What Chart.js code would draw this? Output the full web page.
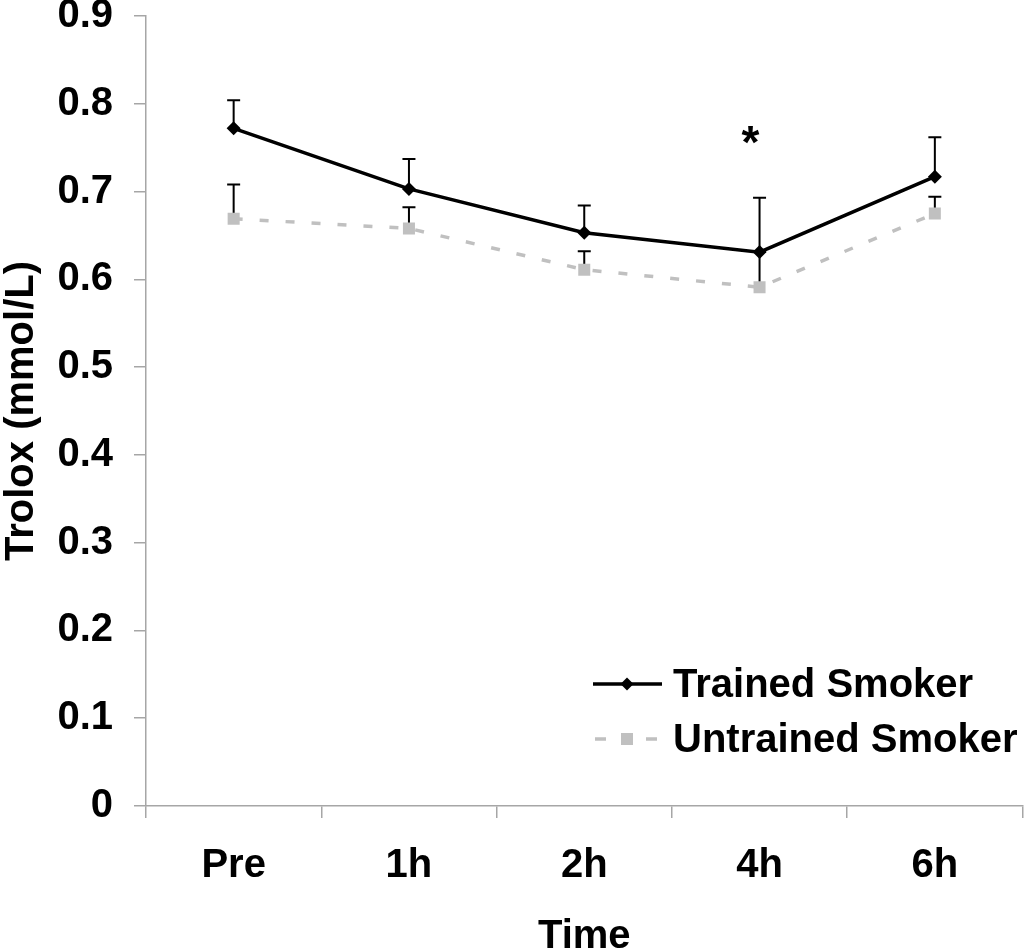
<!DOCTYPE html>
<html><head><meta charset="utf-8">
<script src="https://cdn.jsdelivr.net/npm/chart.js@4"></script>
<style>html,body{margin:0;padding:0;background:#fff;overflow:hidden}#wrap{width:1024px;height:951px;overflow:hidden}</style>
</head><body><div id="wrap"><canvas id="c" width="1031" height="951"></canvas></div>
<script>
const categories = ['Pre', '1h', '2h', '4h', '6h'];
const trainedValues = [0.772, 0.703, 0.653, 0.631, 0.717];
const trainedErrors = [0.032, 0.034, 0.031, 0.062, 0.045];
const untrainedValues = [0.669, 0.658, 0.611, 0.591, 0.675];
const untrainedErrors = [0.039, 0.024, 0.021, 0.040, 0.019];
const yTicks = [0, 0.1, 0.2, 0.3, 0.4, 0.5, 0.6, 0.7, 0.8, 0.9];
const yTickLabels = ['0', '0.1', '0.2', '0.3', '0.4', '0.5', '0.6', '0.7', '0.8', '0.9'];
const sigIndex = [3];
const sigValue = [0.768];
const sigText = ['*'];

const FONT = 'Liberation Sans, Arial, sans-serif';
const AXIS = '#a6a6a6';
const FS = 40;

const errorBars = {
  id: 'errorBars',
  beforeDatasetsDraw(chart) {
    const ctx = chart.ctx, y = chart.scales.y;
    ctx.save();
    ctx.strokeStyle = '#000';
    ctx.lineWidth = 2;
    chart.data.datasets.forEach((ds, di) => {
      const meta = chart.getDatasetMeta(di);
      meta.data.forEach((pt, i) => {
        const top = y.getPixelForValue(ds.data[i] + ds.errors[i]);
        ctx.beginPath();
        ctx.moveTo(pt.x, pt.y);
        ctx.lineTo(pt.x, top);
        ctx.moveTo(pt.x - 6.5, top);
        ctx.lineTo(pt.x + 6.5, top);
        ctx.stroke();
      });
    });
    ctx.restore();
  }
};

const extras = {
  id: 'extras',
  afterDraw(chart) {
    const ctx = chart.ctx, xs = chart.scales.x, ys = chart.scales.y;
    ctx.save();
    ctx.fillStyle = '#000';
    ctx.font = 'bold 46px ' + FONT;
    ctx.textAlign = 'center';
    ctx.textBaseline = 'alphabetic';
    sigIndex.forEach((idx, k) => {
      const px = xs.getPixelForValue(idx) - 9;
      const py = ys.getPixelForValue(sigValue[k]) + 0.56 * 46;
      ctx.fillText(sigText[k], px, py);
    });
    const ds = chart.data.datasets;
    const rows = [684, 739];
    ctx.font = 'bold ' + FS + 'px ' + FONT;
    ctx.textAlign = 'left';
    ctx.textBaseline = 'middle';
    ctx.strokeStyle = ds[0].borderColor;
    ctx.lineWidth = 3.5;
    ctx.beginPath(); ctx.moveTo(593, rows[0]); ctx.lineTo(662, rows[0]); ctx.stroke();
    ctx.fillStyle = ds[0].pointBackgroundColor;
    ctx.beginPath();
    ctx.moveTo(627 - 6.5, rows[0]); ctx.lineTo(627, rows[0] - 6.5); ctx.lineTo(627 + 6.5, rows[0]); ctx.lineTo(627, rows[0] + 6.5);
    ctx.closePath(); ctx.fill();
    ctx.strokeStyle = ds[1].borderColor;
    ctx.beginPath();
    ctx.moveTo(595, rows[1]); ctx.lineTo(606, rows[1]);
    ctx.moveTo(646, rows[1]); ctx.lineTo(657, rows[1]);
    ctx.stroke();
    ctx.fillStyle = ds[1].pointBackgroundColor;
    ctx.fillRect(621, rows[1] - 6, 12, 12);
    ctx.fillStyle = '#000';
    ctx.fillText(ds[0].label, 673, rows[0] + 2);
    ctx.fillText(ds[1].label, 673, rows[1] + 2);
    ctx.restore();
  }
};

new Chart(document.getElementById('c'), {
  type: 'line',
  data: {
    labels: categories,
    datasets: [
      {
        label: 'Trained Smoker', data: trainedValues, errors: trainedErrors,
        borderColor: '#000', backgroundColor: '#000', borderWidth: 3.5,
        pointStyle: 'rectRot', pointRadius: 7, pointBackgroundColor: '#000',
        pointBorderWidth: 0, tension: 0, fill: false
      },
      {
        label: 'Untrained Smoker', data: untrainedValues, errors: untrainedErrors,
        borderColor: '#c0c0c0', backgroundColor: '#c0c0c0', borderWidth: 3.5,
        borderDash: [9, 17], pointStyle: 'rect', pointRadius: 8.5,
        pointBackgroundColor: '#c0c0c0', pointBorderWidth: 0, tension: 0, fill: false
      }
    ]
  },
  options: {
    responsive: false,
    animation: false,
    devicePixelRatio: 1,
    layout: { padding: { top: 16, right: 0, left: 0, bottom: 0 } },
    plugins: { legend: { display: false }, tooltip: { enabled: false } },
    scales: {
      x: {
        offset: true,
        grid: { offset: true, drawOnChartArea: false, drawTicks: true, tickLength: 12, color: AXIS, lineWidth: 1.5 },
        border: { color: AXIS, width: 1.5 },
        ticks: { color: '#000', padding: 24, font: { family: FONT, weight: 'bold', size: FS, lineHeight: 1.2 } },
        title: { display: true, text: 'Time', color: '#000', padding: 0, font: { family: FONT, weight: 'bold', size: FS, lineHeight: 0.7 } },
        afterFit(s) { s.height = 145; s.paddingLeft = 0; s.paddingRight = 0; }
      },
      y: {
        min: 0, max: 0.9,
        afterBuildTicks(s) { s.ticks = yTicks.map(v => ({ value: v })); },
        grid: { drawOnChartArea: false, drawTicks: true, tickLength: 12, color: AXIS, lineWidth: 1.5 },
        border: { color: AXIS, width: 1.5 },
        ticks: {
          color: '#000', padding: 21,
          font: { family: FONT, weight: 'bold', size: FS, lineHeight: 1.2 },
          callback: (v) => yTickLabels[yTicks.indexOf(Math.round(v * 10) / 10)]
        },
        title: { display: true, text: 'Trolox (mmol/L)', color: '#000', padding: 0, font: { family: FONT, weight: 'bold', size: FS, lineHeight: 1.1 } },
        afterFit(s) { s.width = 146; s.paddingTop = 0; s.paddingBottom = 0; }
      }
    }
  },
  plugins: [errorBars, extras]
});
</script></body></html>
